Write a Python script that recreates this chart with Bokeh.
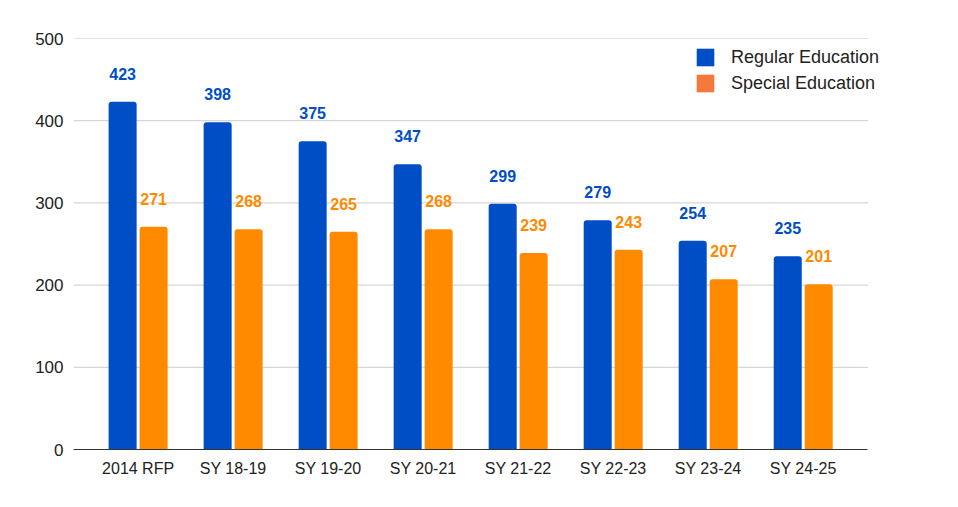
from bokeh.plotting import figure
from bokeh.models import ColumnDataSource, Range1d, Legend, LegendItem, FixedTicker
from bokeh.transform import dodge
from bokeh.core.properties import value
from bokeh.embed import file_html
from bokeh.resources import INLINE

# Enrollment counts by year
categories = ["2014 RFP", "SY 18-19", "SY 19-20", "SY 20-21", "SY 21-22", "SY 22-23", "SY 23-24", "SY 24-25"]
regular_education = [423, 398, 375, 347, 299, 279, 254, 235]
special_education = [271, 268, 265, 268, 239, 243, 207, 201]
y_ticks = [0, 100, 200, 300, 400, 500]

BLUE = "#004ec6"
ORANGE = "#ff8a00"
LEGEND_ORANGE = "#f4773b"
FONT = "Liberation Sans"

idx = list(range(len(categories)))
source = ColumnDataSource(data=dict(
    idx=idx,
    regular=regular_education,
    special=special_education,
    regular_txt=[str(v) for v in regular_education],
    special_txt=[str(v) for v in special_education],
))

# Plot area spans past the grid so the legend can sit to the right of it
X_START = -0.68
GRID_END = 7.68
X_END = 8.55

p = figure(
    width=958, height=507,
    x_range=Range1d(X_START, X_END),
    y_range=Range1d(0, 500),
    output_backend="svg", toolbar_location=None,
    min_border_left=73, min_border_right=8, min_border_top=38, min_border_bottom=58,
)
p.outline_line_color = None
p.background_fill_color = "white"
p.border_fill_color = "white"
p.xgrid.grid_line_color = None
p.ygrid.grid_line_color = None

# Horizontal grid lines
p.segment(x0=X_START, x1=GRID_END, y0=y_ticks[1:], y1=y_ticks[1:],
          line_color="#cccccc", line_width=1)

offset = 0.163
bar_w = 0.295

p.vbar(x=dodge("idx", -offset), top="regular", width=bar_w, bottom=0,
       source=source, fill_color=BLUE, line_color=None, border_radius=[3, 3, 0, 0])
p.vbar(x=dodge("idx", offset), top="special", width=bar_w, bottom=0,
       source=source, fill_color=ORANGE, line_color=None, border_radius=[3, 3, 0, 0])

# Value labels above each bar
p.text(x=dodge("idx", -offset), y="regular", text="regular_txt", source=source,
       text_align="center", text_baseline="alphabetic", y_offset=-28,
       text_font=value(FONT), text_font_style="bold", text_font_size="16px", text_color=BLUE)
p.text(x=dodge("idx", offset), y="special", text="special_txt", source=source,
       text_align="center", text_baseline="alphabetic", y_offset=-28,
       text_font=value(FONT), text_font_style="bold", text_font_size="16px", text_color=ORANGE)

# Legend swatches: zero-height bars, only their legend glyph shows
swatch = ColumnDataSource(data=dict(x=[0], top=[0]))
r_reg = p.vbar(x="x", top="top", bottom=0, width=0.01, source=swatch,
               fill_color=BLUE, line_color=None)
r_spe = p.vbar(x="x", top="top", bottom=0, width=0.01, source=swatch,
               fill_color=LEGEND_ORANGE, line_color=None)
legend = Legend(
    items=[LegendItem(label="Regular Education", renderers=[r_reg]),
           LegendItem(label="Special Education", renderers=[r_spe])],
    location=(621, 355),
    glyph_width=22, glyph_height=22, spacing=4, padding=0, margin=0,
    label_standoff=15, label_height=22,
    label_text_font=FONT, label_text_font_size="18px", label_text_color="#222222",
    border_line_color=None, background_fill_alpha=0,
)
p.add_layout(legend)

# Axes
p.yaxis.ticker = FixedTicker(ticks=y_ticks)
p.yaxis.axis_line_color = None
p.yaxis.major_tick_line_color = None
p.yaxis.minor_tick_line_color = None
p.yaxis.major_tick_out = 0
p.yaxis.major_label_standoff = 10
p.yaxis.major_label_text_font = FONT
p.yaxis.major_label_text_font_size = "17px"
p.yaxis.major_label_text_color = "#222222"

p.xaxis.ticker = FixedTicker(ticks=idx)
p.xaxis.major_label_overrides = {i: c for i, c in zip(idx, categories)}
p.xaxis.bounds = (X_START, GRID_END)
p.xaxis.axis_line_color = "#333333"
p.xaxis.axis_line_width = 1
p.xaxis.major_tick_line_color = None
p.xaxis.minor_tick_line_color = None
p.xaxis.major_tick_out = 0
p.xaxis.major_label_standoff = 10
p.xaxis.major_label_text_font = FONT
p.xaxis.major_label_text_font_size = "16px"
p.xaxis.major_label_text_color = "#222222"

open("out.html", "w").write(file_html(p, INLINE))
